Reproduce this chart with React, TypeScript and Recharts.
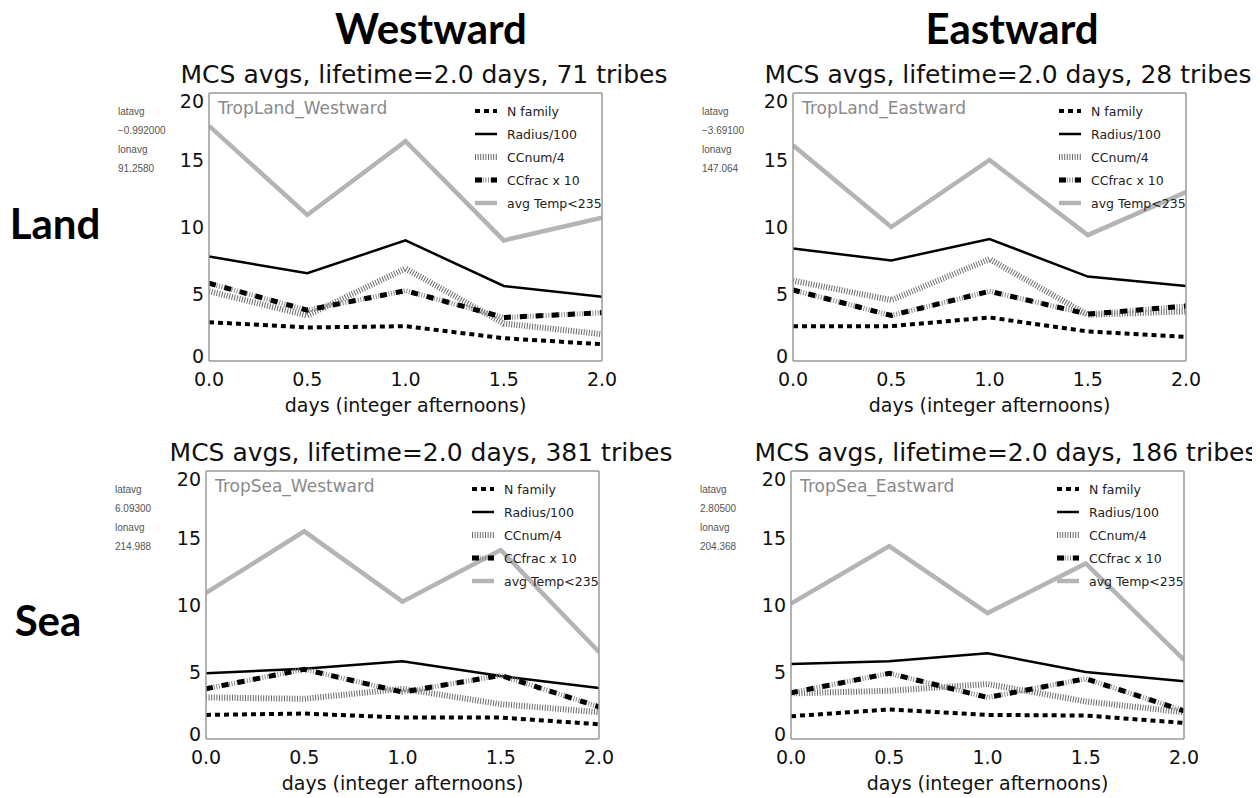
import React from 'react';
import { LineChart, Line, XAxis, YAxis } from 'recharts';

// x positions (days) and tick positions
const days = [0, 0.5, 1.0, 1.5, 2.0];
const xMajorTicks = [0, 0.5, 1, 1.5, 2];
const xMinorTicks = [0, 0.1, 0.2, 0.3, 0.4, 0.5, 0.6, 0.7, 0.8, 0.9, 1, 1.1, 1.2, 1.3, 1.4, 1.5, 1.6, 1.7, 1.8, 1.9, 2];
const yMajorTicks = [0, 5, 10, 15, 20];
const yMinorTicks = [0, 1, 2, 3, 4, 5, 6, 7, 8, 9, 10, 11, 12, 13, 14, 15, 16, 17, 18, 19, 20];

const legendLabels = ['N family', 'Radius/100', 'CCnum/4', 'CCfrac x 10', 'avg Temp<235'];

// TropLand_Westward
const landWestN = [2.9, 2.5, 2.6, 1.7, 1.25];
const landWestRadius = [7.8, 6.55, 9.0, 5.6, 4.8];
const landWestCCnum = [5.2, 3.4, 6.9, 2.8, 2.0];
const landWestCCfrac = [5.8, 3.8, 5.25, 3.25, 3.6];
const landWestTemp = [17.55, 10.9, 16.4, 9.0, 10.7];

// TropLand_Eastward
const landEastN = [2.6, 2.6, 3.25, 2.2, 1.8];
const landEastRadius = [8.4, 7.5, 9.1, 6.3, 5.6];
const landEastCCnum = [6.0, 4.55, 7.6, 3.45, 3.7];
const landEastCCfrac = [5.3, 3.4, 5.2, 3.5, 4.1];
const landEastTemp = [16.1, 10.0, 15.0, 9.4, 12.6];

// TropSea_Westward
const seaWestN = [1.8, 1.9, 1.6, 1.6, 1.1];
const seaWestRadius = [4.9, 5.25, 5.8, 4.7, 3.8];
const seaWestCCnum = [3.1, 3.0, 3.75, 2.6, 2.0];
const seaWestCCfrac = [3.75, 5.2, 3.5, 4.75, 2.4];
const seaWestTemp = [10.9, 15.5, 10.25, 14.1, 6.5];

// TropSea_Eastward
const seaEastN = [1.7, 2.2, 1.8, 1.75, 1.2];
const seaEastRadius = [5.6, 5.8, 6.4, 5.0, 4.3];
const seaEastCCnum = [3.4, 3.6, 4.1, 2.8, 2.0];
const seaEastCCfrac = [3.45, 4.9, 3.1, 4.5, 2.1];
const seaEastTemp = [10.1, 14.4, 9.4, 13.1, 5.9];

const HERSHEY = '"DejaVu Sans", sans-serif';
const FRAME = '#9a9a9a';
const PW = 393;
const PH = 268;
const Y_AXIS_W = 50;
const X_AXIS_H = 56;
const TOP_PAD = 14;
const RIGHT_PAD = 24;

// line styles, also used by the legend swatches
const nStyle = { stroke: '#000', strokeWidth: 4, strokeDasharray: '5 4' };
const radiusStyle = { stroke: '#000', strokeWidth: 2.5 };
const ccnumStyle = { stroke: '#6a6a6a', strokeWidth: 6, strokeDasharray: '1 1.6' };
const ccfracBase = { stroke: '#8a8a8a', strokeWidth: 5, strokeDasharray: '1 1.6' };
const ccfracTop = { stroke: '#000', strokeWidth: 5, strokeDasharray: '7 9' };
const tempStyle = { stroke: '#b4b4b4', strokeWidth: 4.5 };

// plot-area corners in page pixels
const panels = [
  {
    name: 'TropLand_Westward', tribes: 71, lat: '\u22120.992000', lon: '91.2580',
    left: 209, top: 93,
    n: landWestN, radius: landWestRadius, ccnum: landWestCCnum, ccfrac: landWestCCfrac, temp: landWestTemp,
  },
  {
    name: 'TropLand_Eastward', tribes: 28, lat: '\u22123.69100', lon: '147.064',
    left: 793, top: 93,
    n: landEastN, radius: landEastRadius, ccnum: landEastCCnum, ccfrac: landEastCCfrac, temp: landEastTemp,
  },
  {
    name: 'TropSea_Westward', tribes: 381, lat: '6.09300', lon: '214.988',
    left: 206, top: 471,
    n: seaWestN, radius: seaWestRadius, ccnum: seaWestCCnum, ccfrac: seaWestCCfrac, temp: seaWestTemp,
  },
  {
    name: 'TropSea_Eastward', tribes: 186, lat: '2.80500', lon: '204.368',
    left: 791, top: 471,
    n: seaEastN, radius: seaEastRadius, ccnum: seaEastCCnum, ccfrac: seaEastCCfrac, temp: seaEastTemp,
  },
];

// IDL nudges the end labels of the y axis inwards
const YTick = ({ x, y, payload }: any) => {
  const nudge = payload.value === 20 ? 8 : payload.value === 0 ? -5 : 0;
  return (
    <text x={x} y={y + nudge} dy="0.36em" textAnchor="end" fontSize={19} fill="#111" fontFamily={HERSHEY}>
      {payload.value}
    </text>
  );
};

const Swatch = ({ styles }: { styles: any[] }) => (
  <svg width={22} height={10} style={{ display: 'block' }}>
    {styles.map((s, i) => (
      <line key={i} x1={0} y1={5} x2={22} y2={5} {...s} />
    ))}
  </svg>
);

const swatches = [[nStyle], [radiusStyle], [ccnumStyle], [ccfracBase, ccfracTop], [tempStyle]];

function Panel({ p }: { p: any }) {
  const data = days.map((d, i) => ({
    day: d,
    n: p.n[i],
    radius: p.radius[i],
    ccnum: p.ccnum[i],
    ccfrac: p.ccfrac[i],
    temp: p.temp[i],
  }));

  // page coords -> root coords (8px body margin)
  const px = p.left - 8;
  const py = p.top - 8;

  return (
    <>
      <div
        style={{
          position: 'absolute', left: px + 215, top: py - 19,
          transform: 'translate(-50%, -50%)', whiteSpace: 'nowrap',
          fontFamily: HERSHEY, fontSize: 25, lineHeight: 1, color: '#111',
        }}
      >
        MCS avgs, lifetime=2.0 days, {p.tribes} tribes
      </div>

      <div
        style={{
          position: 'absolute', left: px - 91, top: py + 9,
          fontFamily: '"Liberation Sans", Arial, sans-serif', fontSize: 10, lineHeight: '19px', color: '#555',
        }}
      >
        <div>latavg</div>
        <div>{p.lat}</div>
        <div>lonavg</div>
        <div>{p.lon}</div>
      </div>

      <div style={{ position: 'absolute', left: px - Y_AXIS_W, top: py - TOP_PAD }}>
        <LineChart
          width={Y_AXIS_W + PW + RIGHT_PAD}
          height={TOP_PAD + PH + X_AXIS_H}
          data={data}
          margin={{ top: TOP_PAD, right: RIGHT_PAD, bottom: 0, left: 0 }}
        >
          <XAxis
            dataKey="day" type="number" domain={[0, 2]} allowDataOverflow ticks={xMajorTicks} interval={0}
            tickFormatter={(v: number) => v.toFixed(1)}
            tickLine={false} tickSize={0} tickMargin={12} height={X_AXIS_H}
            axisLine={{ stroke: FRAME, strokeWidth: 1.5 }}
            tick={{ fontSize: 19, fill: '#111', fontFamily: HERSHEY }}
            label={{ value: 'days (integer afternoons)', position: 'insideBottom', offset: 5, fontSize: 19, fill: '#111', fontFamily: HERSHEY }}
          />
          <XAxis xAxisId="bMaj" orientation="bottom" mirror type="number" domain={[0, 2]} allowDataOverflow ticks={xMajorTicks} interval={0} tick={false} tickSize={9} axisLine={false} tickLine={{ stroke: FRAME }} />
          <XAxis xAxisId="bMin" orientation="bottom" mirror type="number" domain={[0, 2]} allowDataOverflow ticks={xMinorTicks} interval={0} tick={false} tickSize={4} axisLine={false} tickLine={{ stroke: FRAME }} />
          <XAxis xAxisId="tMaj" orientation="top" mirror type="number" domain={[0, 2]} allowDataOverflow ticks={xMajorTicks} interval={0} tick={false} tickSize={9} axisLine={{ stroke: FRAME, strokeWidth: 1.5 }} tickLine={{ stroke: FRAME }} />
          <XAxis xAxisId="tMin" orientation="top" mirror type="number" domain={[0, 2]} allowDataOverflow ticks={xMinorTicks} interval={0} tick={false} tickSize={4} axisLine={false} tickLine={{ stroke: FRAME }} />

          <YAxis
            type="number" domain={[0, 20]} allowDataOverflow ticks={yMajorTicks} interval={0}
            tickLine={false} tickSize={0} tickMargin={5} width={Y_AXIS_W}
            axisLine={{ stroke: FRAME, strokeWidth: 1.5 }}
            tick={<YTick />}
          />
          <YAxis yAxisId="lMaj" orientation="left" mirror type="number" domain={[0, 20]} allowDataOverflow ticks={yMajorTicks} interval={0} tick={false} tickSize={9} axisLine={false} tickLine={{ stroke: FRAME }} />
          <YAxis yAxisId="lMin" orientation="left" mirror type="number" domain={[0, 20]} allowDataOverflow ticks={yMinorTicks} interval={0} tick={false} tickSize={4} axisLine={false} tickLine={{ stroke: FRAME }} />
          <YAxis yAxisId="rMaj" orientation="right" mirror type="number" domain={[0, 20]} allowDataOverflow ticks={yMajorTicks} interval={0} tick={false} tickSize={9} axisLine={{ stroke: FRAME, strokeWidth: 1.5 }} tickLine={{ stroke: FRAME }} />
          <YAxis yAxisId="rMin" orientation="right" mirror type="number" domain={[0, 20]} allowDataOverflow ticks={yMinorTicks} interval={0} tick={false} tickSize={4} axisLine={false} tickLine={{ stroke: FRAME }} />

          <Line dataKey="n" type="linear" dot={false} isAnimationActive={false} {...nStyle} />
          <Line dataKey="radius" type="linear" dot={false} isAnimationActive={false} {...radiusStyle} />
          <Line dataKey="ccnum" type="linear" dot={false} isAnimationActive={false} {...ccnumStyle} />
          <Line dataKey="ccfrac" type="linear" dot={false} isAnimationActive={false} {...ccfracBase} />
          <Line dataKey="ccfrac" type="linear" dot={false} isAnimationActive={false} {...ccfracTop} />
          <Line dataKey="temp" type="linear" dot={false} isAnimationActive={false} {...tempStyle} />
        </LineChart>
      </div>

      {/* label inside the plot */}
      <div
        style={{
          position: 'absolute', left: px + 9, top: py + 7,
          fontFamily: HERSHEY, fontSize: 17, lineHeight: 1, color: '#8a8a8a', whiteSpace: 'nowrap',
        }}
      >
        {p.name}
      </div>

      {/* legend */}
      <div style={{ position: 'absolute', left: px + PW - 127, top: py + 6.5 }}>
        {legendLabels.map((lab, i) => (
          <div key={lab} style={{ display: 'flex', alignItems: 'center', height: 23 }}>
            <Swatch styles={swatches[i]} />
            <span style={{ marginLeft: 10, fontFamily: HERSHEY, fontSize: 12.5, color: '#222', whiteSpace: 'nowrap' }}>
              {lab}
            </span>
          </div>
        ))}
      </div>
    </>
  );
}

const bigLabel = {
  position: 'absolute' as const,
  fontFamily: 'Lato, "Open Sans", sans-serif',
  fontWeight: 700,
  fontSize: 42,
  lineHeight: 1,
  color: '#000',
  whiteSpace: 'nowrap' as const,
  transform: 'translate(-50%, -50%)',
};

export default function App() {
  return (
    <div style={{ position: 'relative', width: 1252, height: 790, background: '#fff' }}>
      <style>{'body { overflow: hidden; }'}</style>
      <div style={{ ...bigLabel, left: 431 - 8, top: 28 - 8 }}>Westward</div>
      <div style={{ ...bigLabel, left: 1012 - 8, top: 28 - 8 }}>Eastward</div>
      <div style={{ ...bigLabel, left: 55 - 8, top: 223 - 8 }}>Land</div>
      <div style={{ ...bigLabel, left: 48 - 8, top: 620 - 8 }}>Sea</div>
      {panels.map((p) => (
        <Panel key={p.name} p={p} />
      ))}
    </div>
  );
}
